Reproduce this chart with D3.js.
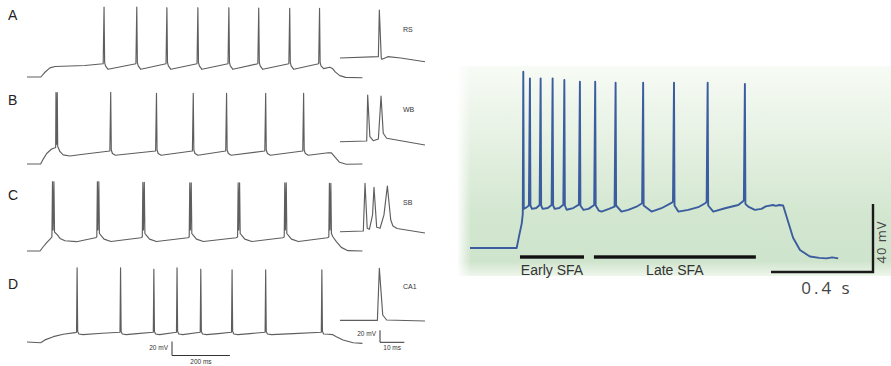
<!DOCTYPE html>
<html><head><meta charset="utf-8">
<script src="https://cdn.jsdelivr.net/npm/d3@7"></script>
<style>body{margin:0;background:#fff}svg{display:block}</style>
</head><body>
<script>
// ---------- DATA (time in ms, voltage in mV) ----------
const rowLabels = ["A", "B", "C", "D"];
const insetLabels = ["RS", "WB", "SB", "CA1"];

const traceA = [[0,-70],[48,-70],[60,-64],[79,-57],[97,-55],[200,-53.5],[263,-51],
[266,30],[268,-49],[271,-54],[280,-59],[376,-51],
[379,30],[381,-49],[384,-54],[393,-59],[480,-51],
[483,29],[485,-49],[488,-54],[497,-59],[587,-51],
[590,29],[592,-49],[595,-54],[604,-59],[694,-51],
[697,29],[699,-49],[702,-54],[711,-59],[797,-51],
[800,28.5],[802,-49],[805,-54],[814,-59],[904,-51],
[907,28],[909,-49],[912,-54],[921,-59],[1007,-51],
[1010,28],[1012,-49],[1015,-54],[1024,-58],[1045,-56],[1055,-58],[1065,-63],[1080,-68],[1100,-70.5],[1158,-71]];

const traceB = [[0,-70],[47,-70],[56,-63],[68,-55],[85,-48.6],[97,-46.7],[99,-46],[100,32],[101.5,-42],[103,-40],[104.5,32],[106,-45],[114,-52.4],[125,-57],[148,-58.6],[194,-56],[286,-51.4],
[289,32.4],[291,-50],[295,-55],[305,-57.5],[444,-51.4],
[447,31],[449,-50],[453,-55],[463,-57.5],[571,-51.4],
[574,31],[576,-50],[580,-55],[590,-57.5],[686,-51.4],
[689,31],[691,-50],[695,-55],[705,-57.5],[821,-51.4],
[824,31],[826,-50],[830,-55],[840,-57.5],[952,-51.4],
[955,31],[957,-50],[961,-55],[971,-57.5],[1040,-54],[1051,-54],[1062,-59.6],[1079,-67.6],[1102,-70.4],[1158,-70]];

const traceC = [[0,-70],[45,-70],[54,-65],[68,-58],[82,-52],[86,-50],
[88,29],[90,-40],[93,29],[95,-43],[100,-45],[105,-47],[114,-52],[131,-55.3],[171,-56.7],[236,-51],
[241,-50],[243,29],[245,-40],[248,29],[250,-45],[256,-48],[266,-53],[290,-56.5],[393,-51],
[398,-50],[400,28],[402,-40],[405,28],[407,-45],[413,-48],[423,-53],[447,-56.5],[555,-51],
[560,-50],[562,27.5],[564,-40],[567,27.5],[569,-45],[575,-48],[585,-53],[609,-56.5],[722,-51],
[727,-50],[729,27.5],[731,-40],[734,27.5],[736,-45],[742,-48],[752,-53],[776,-56.5],[883,-51],
[888,-50],[890,27.5],[892,-40],[895,27.5],[897,-45],[903,-48],[913,-53],[937,-56.5],[1037,-51],
[1042,-50],[1044,26.7],[1046,-40],[1049,26.7],[1051,-45],[1056,-49.6],[1068,-56.7],[1085,-64.8],[1108,-69.5],[1158,-70]];

const traceD = [[0,-70],[47,-71],[62,-67],[91,-62.4],[125,-59],[166,-56.7],[171,-56],
[173,36],[175,-55],[179,-58.5],[193,-59.5],[260,-57.5],[321,-56],
[323,36],[325,-55],[329,-58.5],[343,-59.5],[380,-58],[436,-56],
[438,34],[440,-55],[444,-58.5],[458,-59.5],[516,-56],
[518,36],[520,-55],[524,-58.5],[538,-59.5],[598,-56],
[600,34],[602,-55],[606,-58.5],[620,-59.5],[660,-58],[706,-56],
[708,33],[710,-55],[714,-58.5],[728,-59.5],[770,-58],[822,-56],
[824,33],[826,-55],[830,-58.5],[844,-59.5],[920,-58],[1016,-56],
[1018,33],[1020,-55],[1024,-58.5],[1040,-59],[1056,-59.5],[1068,-62.4],[1091,-67.1],[1126,-71],[1158,-72]];

const insetRS = [[0,-65],[15.8,-62.8],[16.2,15],[17.0,-65.8],[17.3,-67.2],[19.7,-62.8],[25,-65],[35,-71.2]];
const insetWB = [[0,-65],[11.0,-63.8],[11.4,12.8],[12.3,-56.7],[13.7,-63.3],[15.8,-60.5],[16.9,11.2],[17.8,-51],[19.2,-59.3],[35,-70.5]];
const insetSB = [[0,-65],[9.6,-63.8],[10.3,15.7],[11.2,-59.3],[12.1,-61],[13.4,-37],[14.0,9],[15.1,-57.7],[16.5,-59.3],[18.1,-37],[19.5,11.2],[20.9,-45.5],[21.8,-55.5],[23.5,-59.7],[35,-67.2]];
const insetCA1 = [[0,-65],[15.4,-65],[16.2,21.7],[17.6,-56.2],[19.2,-64.5],[35,-66.2]];

const sfaTrace = [[0,-70],[183,-70],[192,-63.3],[203,-55.5],[207,-50],
[209,33.7],[211,-47],[216,-46.6],[222,-46],[231,-45],
[235,29.8],[237,-45],[243,-47],[260,-46.5],[273,-44.7],
[277,29.8],[279,-45],[285,-47],[305,-46.5],[320,-44.7],
[324,29.8],[326,-45],[332,-47],[350,-46.5],[366,-44.5],
[370,28.8],[372,-45],[379,-47.5],[405,-46.5],[427,-44.5],
[431,27.8],[433,-45],[445,-47.6],[465,-47],[487,-44.7],
[491,27.8],[493,-45],[505,-48],[516,-48.6],[545,-47],[567,-45.7],
[571,27.2],[573,-45],[594,-48.6],[621,-47.6],[653,-45.7],[675,-43.7],
[679,27.2],[681,-45],[712,-48.6],[751,-46.6],[790,-43.5],[796,-42.7],
[800,27.2],[802,-45],[817,-48.6],[856,-47.6],[895,-46],[924,-43.5],[928,-42.7],
[932,27.2],[934,-45],[954,-48.6],[1000,-46.6],[1052,-44.7],[1071,-42.5],[1074,-41.8],
[1078,26.5],[1080,-44],[1091,-45.7],[1117,-47.6],[1143,-47],[1160,-45.5],[1188,-44.7],[1200,-45.2],[1212,-44.7],[1228,-45],[1267,-64],[1294,-71.2],[1333,-75],[1370,-75.8],[1398,-76.1],[1420,-75.5],[1444,-76.1]];

const sfaPeriodNames = ["Early SFA", "Late SFA"];
const sfaPeriodStart = [196, 486];
const sfaPeriodEnd = [447, 1121];

const mainScaleBar = {ms: 200, mV: 20, msLabel: "200 ms", mVLabel: "20 mV"};
const insetScaleBar = {ms: 10, mV: 20, msLabel: "10 ms", mVLabel: "20 mV"};
const sfaScaleBar = {ms: 400, mV: 40, msLabel: "0.4 s", mVLabel: "40 mV"};

// ---------- LAYOUT ----------
const W = 891, H = 366;
const svg = d3.select("body").append("svg").attr("width", W).attr("height", H);
svg.append("rect").attr("width", W).attr("height", H).attr("fill", "#fff");

const sans = "'Liberation Sans', Arial, Helvetica, sans-serif";
const grey = "#5e5e5e";

const xMain = d3.scaleLinear().domain([0, 1160]).range([27, 363]);
const xInset = d3.scaleLinear().domain([0, 35]).range([340, 425]);

const rows = [
  {trace: traceA, inset: insetRS, top: 0,   insetBase: 58,    labelY: 20,    insetLabelY: 31.5},
  {trace: traceB, inset: insetWB, top: 87,  insetBase: 141.7, labelY: 105,   insetLabelY: 112.3},
  {trace: traceC, inset: insetSB, top: 174, insetBase: 231.7, labelY: 199.5, insetLabelY: 205},
  {trace: traceD, inset: insetCA1, top: 265, insetBase: 320.3, labelY: 288.5, insetLabelY: 289.3}
];

rows.forEach((r, i) => {
  const y = d3.scaleLinear().domain([-80, 40]).range([r.top + 84, r.top]);
  const yi = d3.scaleLinear().domain([-65, 35]).range([r.insetBase, r.insetBase - 60]);
  const line = d3.line().x(d => xMain(d[0])).y(d => y(d[1]));
  const lineI = d3.line().x(d => xInset(d[0])).y(d => yi(d[1]));
  svg.append("path").attr("d", line(r.trace)).attr("fill", "none")
    .attr("stroke", grey).attr("stroke-width", 1.15).attr("stroke-linejoin", "round");
  svg.append("path").attr("d", lineI(r.inset)).attr("fill", "none")
    .attr("stroke", grey).attr("stroke-width", 1.15).attr("stroke-linejoin", "round");
  svg.append("text").attr("x", 8).attr("y", r.labelY).text(rowLabels[i])
    .attr("font-family", sans).attr("font-size", 14).attr("fill", "#222");
  svg.append("text").attr("x", 403).attr("y", r.insetLabelY).text(insetLabels[i])
    .attr("font-family", sans).attr("font-size", 7).attr("fill", "#333");
});

// main scale bar
{
  const ax = 172, ay = 355.5;
  const lx = xMain(mainScaleBar.ms) - xMain(0);
  const yD = d3.scaleLinear().domain([-80, 40]).range([349, 265]);
  const ly = yD(-80) - yD(-80 + mainScaleBar.mV);
  svg.append("path").attr("d", `M${ax},${ay - ly}V${ay}H${ax + lx}`)
    .attr("fill", "none").attr("stroke", "#333").attr("stroke-width", 1);
  svg.append("text").attr("x", ax - 4).attr("y", ay - 6).attr("text-anchor", "end")
    .text(mainScaleBar.mVLabel).attr("font-family", sans).attr("font-size", 6.5).attr("fill", "#333");
  svg.append("text").attr("x", ax + lx / 2).attr("y", ay + 8).attr("text-anchor", "middle")
    .text(mainScaleBar.msLabel).attr("font-family", sans).attr("font-size", 6.5).attr("fill", "#333");
}
// inset scale bar
{
  const ax = 380, ay = 342.3;
  const lx = xInset(insetScaleBar.ms) - xInset(0);
  const ly = insetScaleBar.mV * 0.6;
  svg.append("path").attr("d", `M${ax},${ay - ly}V${ay}H${ax + lx}`)
    .attr("fill", "none").attr("stroke", "#333").attr("stroke-width", 1);
  svg.append("text").attr("x", ax - 4).attr("y", ay - 6).attr("text-anchor", "end")
    .text(insetScaleBar.mVLabel).attr("font-family", sans).attr("font-size", 6.5).attr("fill", "#333");
  svg.append("text").attr("x", ax + lx / 2).attr("y", ay + 8).attr("text-anchor", "middle")
    .text(insetScaleBar.msLabel).attr("font-family", sans).attr("font-size", 6.5).attr("fill", "#333");
}

// ---------- RIGHT PANEL ----------
const defs = svg.append("defs");
const g1 = defs.append("linearGradient").attr("id", "bg").attr("x1", 0).attr("y1", 0).attr("x2", 0).attr("y2", 1);
[[0, "#f7fbf5"], [0.35, "#e6f1e3"], [0.7, "#d3e7d0"], [0.93, "#cfe4cc"], [1, "#eef6ec"]]
  .forEach(s => g1.append("stop").attr("offset", s[0]).attr("stop-color", s[1]));
const g2 = defs.append("linearGradient").attr("id", "edge").attr("x1", 0).attr("y1", 0).attr("x2", 1).attr("y2", 0);
[[0, "#fff", 0.9], [0.03, "#fff", 0]].forEach(s => g2.append("stop").attr("offset", s[0]).attr("stop-color", s[1]).attr("stop-opacity", s[2]));

svg.append("rect").attr("x", 458).attr("y", 66).attr("width", W - 458).attr("height", 210).attr("fill", "url(#bg)");
svg.append("rect").attr("x", 458).attr("y", 66).attr("width", W - 458).attr("height", 210).attr("fill", "url(#edge)");

const xR = d3.scaleLinear().domain([0, 1450]).range([470, 839.75]);
const yR = d3.scaleLinear().domain([-80, 40]).range([265, 61]);
svg.append("path").attr("d", d3.line().x(d => xR(d[0])).y(d => yR(d[1]))(sfaTrace))
  .attr("fill", "none").attr("stroke", "#3b5c9e").attr("stroke-width", 1.9).attr("stroke-linejoin", "round");

sfaPeriodNames.forEach((name, i) => {
  const x0 = xR(sfaPeriodStart[i]), x1 = xR(sfaPeriodEnd[i]);
  svg.append("rect").attr("x", x0).attr("y", 255.3).attr("width", x1 - x0).attr("height", 3.4).attr("fill", "#111");
  svg.append("text").attr("x", (x0 + x1) / 2).attr("y", 275).attr("text-anchor", "middle")
    .text(name).attr("font-family", sans).attr("font-size", 14).attr("fill", "#333");
});

{
  const ax = 873, ay = 272;
  const lx = xR(sfaScaleBar.ms) - xR(0);
  const ly = yR(-80) - yR(-80 + sfaScaleBar.mV);
  svg.append("path").attr("d", `M${ax - lx},${ay}H${ax}V${ay - ly}`)
    .attr("fill", "none").attr("stroke", "#1a1a1a").attr("stroke-width", 2.4);
  svg.append("text").attr("x", ax - lx / 2 + 5).attr("y", 294).attr("text-anchor", "middle")
    .attr("letter-spacing", 3)
    .text(sfaScaleBar.msLabel).attr("font-family", "'Open Sans', sans-serif").attr("font-size", 17).attr("fill", "#444");
  svg.append("text").attr("transform", `translate(886,${ay - ly / 2 + 4}) rotate(-90)`).attr("text-anchor", "middle")
    .attr("letter-spacing", 1)
    .text(sfaScaleBar.mVLabel).attr("font-family", "'Open Sans', sans-serif").attr("font-size", 13).attr("fill", "#444");
}
</script>
</body></html>
